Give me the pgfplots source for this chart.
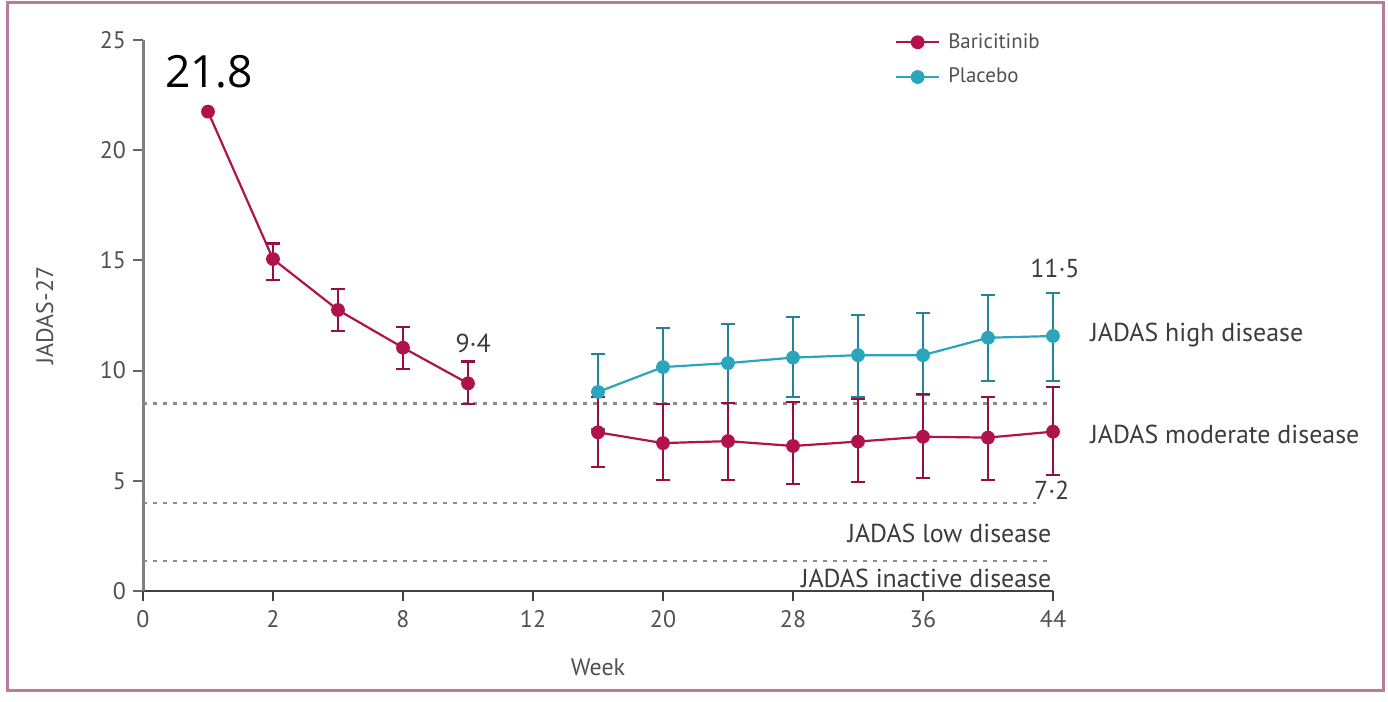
\documentclass[border=0pt]{standalone}
\usepackage{pgfplots}
\pgfplotsset{compat=1.18}
\usepackage{fontspec}
\setmainfont{PT Sans}
\newfontfamily\bigfont{Open Sans}
\definecolor{bari}{HTML}{B0124A}
\definecolor{plac}{HTML}{2BA5BB}
\definecolor{framec}{HTML}{B87C96}
\definecolor{txt}{HTML}{505050}
\definecolor{anno}{HTML}{3C3C3C}
\definecolor{dotc}{HTML}{8A8A8A}
\begin{document}
\begin{tikzpicture}
\path[use as bounding box] (0,0) rectangle (694bp,351bp);
\draw[framec, line width=1.5bp] (3.5bp,5.5bp) rectangle (691.5bp,349.5bp);
\begin{axis}[
  at={(71.5bp,55.5bp)}, anchor=south west,
  scale only axis, width=455bp, height=275.5bp,
  xmin=0, xmax=7, ymin=0, ymax=25,
  axis x line*=bottom, axis y line*=left,
  x axis line style={draw=black!75, line width=1bp},
  y axis line style={draw=black!50, line width=1.5bp},
  clip=false,
  xtick={0,...,7}, xticklabels={0,2,8,12,20,28,36,44},
  ytick={0,5,...,25},
  tick align=outside, major tick length=5bp,
  x tick style={draw=black!75, line width=1bp},
  y tick style={draw=black!60, line width=1bp},
  /pgf/number format/assume math mode=true,
  ticklabel style={font=\fontsize{12}{14}\selectfont, text=txt},
  xticklabel style={yshift=-1bp},
  xlabel={Week}, ylabel={JADAS-27},
  label style={font=\fontsize{12}{14}\selectfont, text=txt},
  xlabel style={at={(axis description cs:0.5,-0.138)}, anchor=center},
  ylabel style={at={(axis description cs:-0.108,0.5)}, anchor=center},
  legend style={at={(0.826,1.02)}, anchor=north west, draw=none, fill=none,
    font=\fontsize{10.5}{12}\selectfont\color{txt}, row sep=4.5bp, inner sep=0pt,
    nodes={inner xsep=4bp}},
  legend cell align=left,
  legend image code/.code={\draw[mark repeat=2,mark phase=2,#1] plot coordinates {(0bp,0bp) (10.75bp,0bp) (21.5bp,0bp)};},
]
\addlegendimage{bari, line width=1.1bp, mark=*, mark size=2.9bp}
\addlegendentry{Baricitinib}
\addlegendimage{plac, line width=1.1bp, mark=*, mark size=2.9bp}
\addlegendentry{Placebo}

% threshold lines
\addplot[dotc, line width=1.2bp, dash pattern=on 2.2bp off 2.8bp, forget plot] coordinates {(0,8.5) (6.98,8.5)};
\addplot[dotc, line width=1.2bp, dash pattern=on 2.2bp off 2.8bp, forget plot] coordinates {(0,4.0) (6.87,4.0)};
\addplot[dotc, line width=1.2bp, dash pattern=on 2.2bp off 2.8bp, forget plot] coordinates {(0,1.37) (6.98,1.37)};

% placebo
\addplot[plac, line width=1.1bp, mark=*, mark size=2.9bp, forget plot,
  error bars/.cd, y dir=both, y explicit,
  error bar style={line width=1.1bp, plac!80!black},
  error mark options={rotate=90, mark size=3.5bp, line width=1.1bp, plac!80!black}]
  table[x=x, y=y, y error plus=ep, y error minus=em] {
x   y     ep    em
3.5 9.03  1.72  1.70
4   10.16 1.77  1.66
4.5 10.34 1.77  1.80
5   10.59 1.86  1.79
5.5 10.70 1.82  1.90
6   10.70 1.93  1.80
6.5 11.49 1.94  1.95
7   11.57 1.96  2.03
};

% baricitinib, weeks 0-12
\addplot[bari, line width=1.1bp, mark=*, mark size=2.9bp, forget plot]
  table[x=x, y=y] {
x   y
0.5 21.75
1   15.06
1.5 12.75
2   11.04
2.5 9.42
};
\addplot[bari, only marks, mark=none, forget plot,
  error bars/.cd, y dir=both, y explicit,
  error bar style={line width=1.1bp, bari!85!black},
  error mark options={rotate=90, mark size=3.5bp, line width=1.1bp, bari!85!black}]
  table[x=x, y=y, y error plus=ep, y error minus=em] {
x   y     ep    em
1   15.06 0.71  0.95
1.5 12.75 0.94  0.94
2   11.04 0.95  0.98
2.5 9.42  0.99  0.92
};
\addplot[bari, mark=*, mark size=2.9bp, only marks, forget plot] coordinates {(1,15.06) (1.5,12.75) (2,11.04) (2.5,9.42)};

% baricitinib, weeks 16-44
\addplot[bari, line width=1.1bp, mark=*, mark size=2.9bp, forget plot,
  error bars/.cd, y dir=both, y explicit,
  error bar style={line width=1.1bp, bari!85!black},
  error mark options={rotate=90, mark size=3.5bp, line width=1.1bp, bari!85!black}]
  table[x=x, y=y, y error plus=ep, y error minus=em] {
x   y     ep    em
3.5 7.20  1.60  1.57
4   6.71  1.79  1.68
4.5 6.80  1.74  1.77
5   6.58  2.01  1.73
5.5 6.78  1.92  1.82
6   7.00  1.94  1.87
6.5 6.96  1.86  1.92
7   7.23  2.04  1.97
};

% annotations
\node[font=\bigfont\fontsize{22.3}{26}\selectfont, text=black] at (axis cs:0.508,23.55) {21.8};
\node[font=\fontsize{13}{16}\selectfont, text=anno] at (axis cs:2.54,11.25) {9·4};
\node[font=\fontsize{13}{16}\selectfont, text=anno] at (axis cs:7.015,14.65) {11·5};
\node[font=\fontsize{13}{16}\selectfont, text=anno] at (axis cs:6.99,4.58) {7·2};
\node[font=\fontsize{13}{16}\selectfont, text=anno, anchor=west, inner sep=0pt] at (axis cs:7.285,11.62) {JADAS high disease};
\node[font=\fontsize{13}{16}\selectfont, text=anno, anchor=west, inner sep=0pt] at (axis cs:7.285,7.12) {JADAS moderate disease};
\node[font=\fontsize{13}{16}\selectfont, text=anno, anchor=east, inner sep=0pt] at (axis cs:6.99,2.63) {JADAS low disease};
\node[font=\fontsize{13}{16}\selectfont, text=anno, anchor=east, inner sep=0pt] at (axis cs:6.99,0.59) {JADAS inactive disease};
\end{axis}
\end{tikzpicture}
\end{document}
